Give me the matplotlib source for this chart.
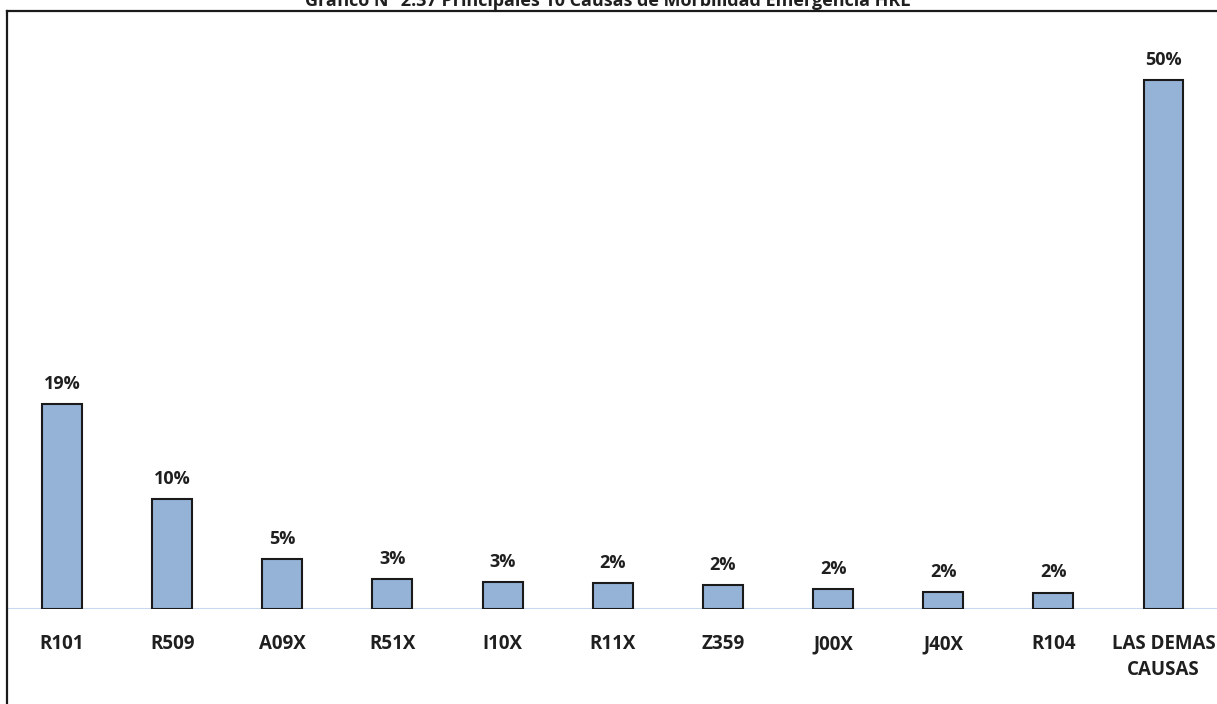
import matplotlib
matplotlib.use("Agg")
import matplotlib.pyplot as plt
from matplotlib.lines import Line2D

plt.rcParams['font.family'] = ['Open Sans', 'DejaVu Sans']

categories = ["R101", "R509", "A09X", "R51X", "I10X", "R11X", "Z359", "J00X", "J40X", "R104", "LAS DEMAS\nCAUSAS"]
values = [19.4, 10.4, 4.7, 2.8, 2.55, 2.45, 2.3, 1.9, 1.6, 1.55, 50.0]
title = "Gráfico N° 2.37 Principales 10 Causas de Morbilidad Emergencia HRL"

W, H = 1217, 704
fig = plt.figure(figsize=(W / 100, H / 100), dpi=100)

spacing = 110.15
first_c = 62.0
base_y = 609.0
px_per = 10.58
top_y = 20.0

ax = fig.add_axes([0, (H - base_y) / H, 1, (base_y - top_y) / H])
ax.set_xlim(-first_c / spacing, (W - first_c) / spacing)
ax.set_ylim(0, (base_y - top_y) / px_per)

x = list(range(len(categories)))
bars = ax.bar(x, values, width=0.363, color="#95b3d7", edgecolor="#1a1a1a", linewidth=1.5, zorder=3)
for xi, v in zip(x, values):
    ax.annotate(f"{round(v):.0f}%", (xi, v), xytext=(0, 8), textcoords="offset points",
                ha="center", va="bottom", fontsize=13, fontweight="bold", color="#1f1f1f")

ax.axhline(0, xmin=8 / W, xmax=1, color="#c6d9f1", linewidth=1.5, zorder=2)
ax.set_xticks(x)
ax.set_xticklabels(categories, fontsize=13.5, fontweight="bold", color="#1f1f1f", linespacing=1.4)
ax.tick_params(axis="x", length=0, pad=18)
ax.tick_params(axis="y", left=False, labelleft=False)
for s in ax.spines.values():
    s.set_visible(False)
ax.patch.set_alpha(0)

# frame
fig.add_artist(Line2D([6.5 / W, 6.5 / W], [0, 1 - 10.5 / H], transform=fig.transFigure, color="#1a1a1a", lw=1.6))
fig.add_artist(Line2D([6.5 / W, 1], [1 - 10.5 / H, 1 - 10.5 / H], transform=fig.transFigure, color="#1a1a1a", lw=1.6))

fig.text(608 / W, 1 - 6 / H, title, ha="center", va="baseline", fontsize=13, fontweight="bold", color="#1f1f1f")

fig.savefig("out.png", dpi=100)
